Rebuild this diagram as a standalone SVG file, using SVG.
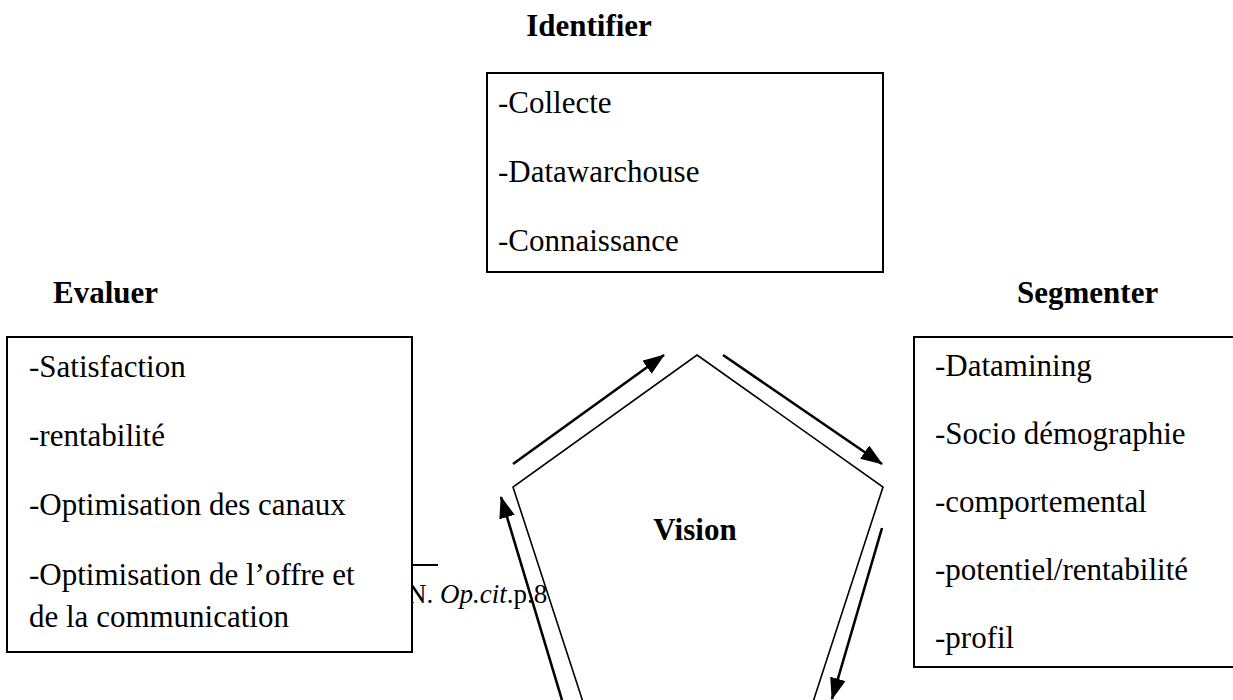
<svg xmlns="http://www.w3.org/2000/svg" width="1233" height="700" viewBox="0 0 1233 700">
<style>
text{font-family:"Liberation Serif","Times New Roman",serif;font-size:31px;fill:#000}
.b{font-weight:bold}
.fn{font-size:27px}
.box{fill:#fff;stroke:#000;stroke-width:2}
.pent{fill:none;stroke:#000;stroke-width:1.6}
.arr{stroke:#000;stroke-width:2.6;fill:none;marker-end:url(#ah)}
</style>
<defs>
<marker id="ah" markerUnits="userSpaceOnUse" markerWidth="22" markerHeight="16" refX="21" refY="8" orient="auto">
<path d="M0,0 L22,8 L0,16 Z" fill="#000"/>
</marker>
</defs>
<rect width="1233" height="700" fill="#fff"/>
<text id="footnote" class="fn" x="407" y="603">N. <tspan font-style="italic">Op.cit</tspan>.p.8</text>
<line x1="412" y1="565" x2="438" y2="565" stroke="#000" stroke-width="2"/>
<g id="identifier">
<text class="b" x="589" y="36" text-anchor="middle">Identifier</text>
<rect class="box" x="487" y="73" width="396" height="199"/>
<text x="498" y="113">-Collecte</text>
<text x="498" y="182">-Datawarchouse</text>
<text x="498" y="251">-Connaissance</text>
</g>
<g id="evaluer">
<text class="b" x="53" y="303">Evaluer</text>
<rect class="box" x="7" y="337" width="405" height="315"/>
<text x="29" y="377">-Satisfaction</text>
<text x="29" y="446">-rentabilité</text>
<text x="29" y="515">-Optimisation des canaux</text>
<text x="29" y="585">-Optimisation de l’offre et</text>
<text x="29" y="627">de la communication</text>
</g>
<g id="segmenter">
<text class="b" x="1017" y="303">Segmenter</text>
<rect class="box" x="914" y="337" width="330" height="330"/>
<text x="935" y="376">-Datamining</text>
<text x="935" y="444">-Socio démographie</text>
<text x="935" y="512">-comportemental</text>
<text x="935" y="580">-potentiel/rentabilité</text>
<text x="935" y="648">-profil</text>
</g>
<g id="vision">
<polygon class="pent" points="697,355 883,487 813,702 583,702 513,487"/>
<text class="b" x="695" y="540" text-anchor="middle">Vision</text>
</g>
<g id="connectors">
<line class="arr" x1="513" y1="464" x2="664" y2="355"/>
<line class="arr" x1="723" y1="355" x2="882" y2="464"/>
<line class="arr" x1="882" y1="528" x2="832" y2="699"/>
<line class="arr" x1="562" y1="700" x2="501" y2="497"/>
</g>
</svg>
